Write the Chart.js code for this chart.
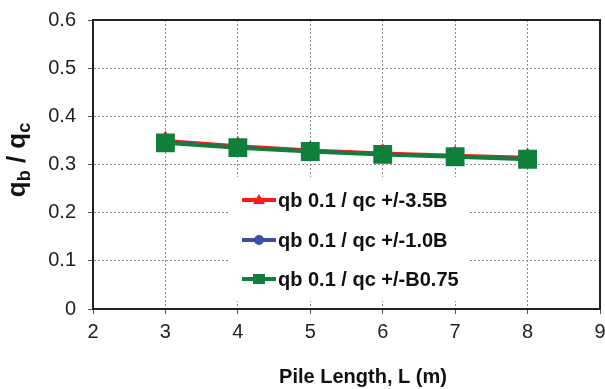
<!DOCTYPE html>
<html>
<head>
<meta charset="utf-8">
<script src="https://cdn.jsdelivr.net/npm/chart.js@4"></script>
<style>
    html, body { margin: 0; padding: 0; background: #fff; }
    #wrap { width: 605px; height: 389px; }
</style>
</head>
<body>
<div id="wrap"><canvas id="chart" width="605" height="389"></canvas></div>
<script>
// pile length (m)
const pileLength = [3, 4, 5, 6, 7, 8];
// qb / qc for each series
const ratio35B = [0.350, 0.339, 0.330, 0.324, 0.319, 0.315];
const ratio10B = [0.347, 0.336, 0.328, 0.322, 0.317, 0.312];
const ratioB075 = [0.345, 0.335, 0.327, 0.321, 0.316, 0.311];
const seriesNames = ['qb 0.1 / qc +/-3.5B', 'qb 0.1 / qc +/-1.0B', 'qb 0.1 / qc +/-B0.75'];
const xTicks = [2, 3, 4, 5, 6, 7, 8, 9];
const yTicks = [0, 0.1, 0.2, 0.3, 0.4, 0.5, 0.6];
const xTitle = 'Pile Length, L (m)';

const FONT = 'Liberation Sans, Arial, sans-serif';

function toPoints(vals) {
    return pileLength.map((x, i) => ({ x: x, y: vals[i] }));
}

// frame, legend box, axis titles (y one needs subscripts)
const extras = {
    id: 'extras',
    afterDraw(chart) {
        const ctx = chart.ctx;
        const a = chart.chartArea;
        ctx.save();
        ctx.strokeStyle = '#222';
        ctx.lineWidth = 2;
        ctx.strokeRect(a.left, a.top, a.right - a.left, a.bottom - a.top);

        // legend
        ctx.fillStyle = '#fff';
        ctx.fillRect(230, 177, 238, 124);
        const rows = [200, 240, 279];
        chart.data.datasets.forEach((ds, i) => {
            const y = rows[i];
            ctx.strokeStyle = ds.borderColor;
            ctx.lineWidth = 4;
            ctx.beginPath();
            ctx.moveTo(242, y);
            ctx.lineTo(276, y);
            ctx.stroke();
            ctx.fillStyle = ds.borderColor;
            ctx.beginPath();
            if (ds.pointStyle === 'triangle') {
                ctx.moveTo(259, y - 6);
                ctx.lineTo(265, y + 4);
                ctx.lineTo(253, y + 4);
                ctx.closePath();
            } else if (ds.pointStyle === 'circle') {
                ctx.arc(259, y, 5, 0, Math.PI * 2);
            } else {
                ctx.rect(253, y - 5, 12, 10);
            }
            ctx.fill();
            ctx.fillStyle = '#111';
            ctx.font = 'bold 20px ' + FONT;
            ctx.textBaseline = 'middle';
            ctx.textAlign = 'left';
            ctx.fillText(ds.label, 278, y + 1);
        });

        // x axis title
        ctx.font = 'bold 20px ' + FONT;
        ctx.fillStyle = '#111';
        ctx.textAlign = 'center';
        ctx.textBaseline = 'middle';
        ctx.fillText(xTitle, 363, 377);

        // y axis title: q_b / q_c
        ctx.translate(25, 160);
        ctx.rotate(-Math.PI / 2);
        const parts = [
            { t: 'q', f: 'bold 26px ' + FONT, dy: 0 },
            { t: 'b', f: 'bold 18px ' + FONT, dy: 5 },
            { t: ' / ', f: 'bold 26px ' + FONT, dy: 0 },
            { t: 'q', f: 'bold 26px ' + FONT, dy: 0 },
            { t: 'c', f: 'bold 18px ' + FONT, dy: 5 }
        ];
        let total = 0;
        parts.forEach(p => { ctx.font = p.f; p.w = ctx.measureText(p.t).width; total += p.w; });
        let x = -total / 2;
        ctx.textBaseline = 'alphabetic';
        ctx.textAlign = 'left';
        parts.forEach(p => {
            ctx.font = p.f;
            ctx.fillText(p.t, x, p.dy);
            x += p.w;
        });
        ctx.restore();
    }
};

const gridOpts = {
    color: '#8a8a8a',
    tickBorderDash: [],
    tickColor: '#555',
    tickLength: 5,
    lineWidth: 1
};

const ctx = document.getElementById('chart').getContext('2d');
new Chart(ctx, {
    type: 'line',
    data: {
        datasets: [
            {
                label: seriesNames[0],
                data: toPoints(ratio35B),
                borderColor: '#ff1a1a',
                backgroundColor: '#ff1a1a',
                borderWidth: 3,
                pointStyle: 'triangle',
                pointRadius: 7,
                order: 3
            },
            {
                label: seriesNames[1],
                data: toPoints(ratio10B),
                borderColor: '#3a4fa8',
                backgroundColor: '#3a4fa8',
                borderWidth: 3,
                pointStyle: 'circle',
                pointRadius: 6,
                order: 2
            },
            {
                label: seriesNames[2],
                data: toPoints(ratioB075),
                borderColor: '#107f3c',
                backgroundColor: '#107f3c',
                borderWidth: 4,
                pointStyle: 'rect',
                pointRadius: 10.5,
                order: 1
            }
        ]
    },
    options: {
        responsive: false,
        animation: false,
        layout: { autoPadding: false, padding: { top: 20, right: 5, bottom: 0, left: 0 } },
        plugins: {
            legend: { display: false },
            tooltip: { enabled: false }
        },
        scales: {
            x: {
                type: 'linear',
                min: 2,
                max: 9,
                afterBuildTicks: s => { s.ticks = xTicks.map(v => ({ value: v })); },
                afterFit: s => { s.height = 80; s.paddingLeft = 0; s.paddingRight = 0; },
                grid: gridOpts,
                border: { display: true, color: '#222', width: 2, dash: [2, 2] },
                ticks: {
                    color: '#222',
                    font: { family: FONT, size: 20 },
                    padding: 6,
                    maxRotation: 0
                }
            },
            y: {
                min: 0,
                max: 0.6,
                afterBuildTicks: s => { s.ticks = yTicks.map(v => ({ value: v })); },
                afterFit: s => { s.width = 93; s.paddingTop = 0; s.paddingBottom = 0; },
                grid: gridOpts,
                border: { display: true, color: '#222', width: 2, dash: [2, 2] },
                ticks: {
                    color: '#222',
                    font: { family: FONT, size: 20 },
                    padding: 12,
                    callback: v => String(Math.round(v * 10) / 10)
                }
            }
        }
    },
    plugins: [extras]
});
</script>
</body>
</html>
